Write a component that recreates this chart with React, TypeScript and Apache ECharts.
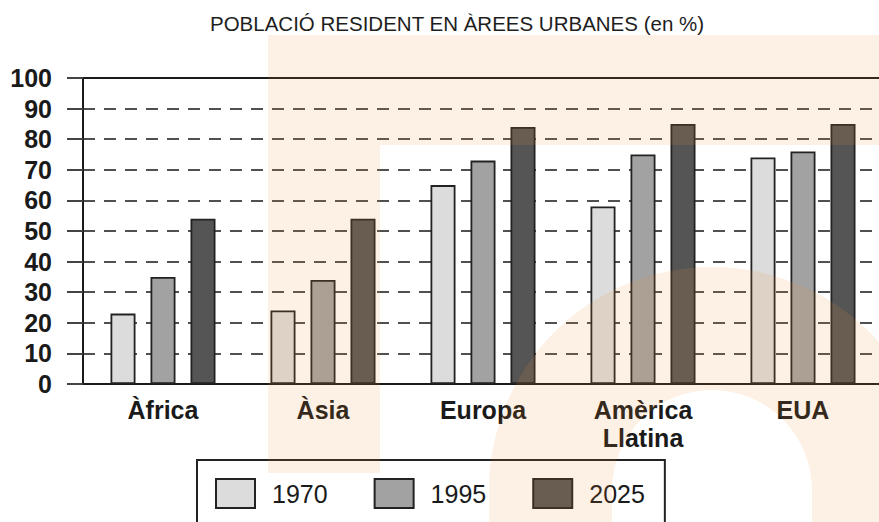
import React, { useEffect, useRef } from "react";
import * as echarts from "echarts";

const categories = ["Àfrica", "Àsia", "Europa", "Amèrica\nLlatina", "EUA"];
const years = ["1970", "1995", "2025"];
const values1970 = [23, 24, 65, 58, 74];
const values1995 = [35, 34, 73, 75, 76];
const values2025 = [54, 54, 84, 85, 85];
const yTicks = [0, 10, 20, 30, 40, 50, 60, 70, 80, 90, 100];
const barColors = ["#dcdcdc", "#a2a2a2", "#555555"];

export default function App() {
  const ref = useRef<HTMLDivElement>(null);
  useEffect(() => {
    document.body.style.margin = "0";
    const chart = echarts.init(ref.current!, null, { renderer: "svg" });
    const seriesValues = [values1970, values1995, values2025];
    const wm = "rgba(236,138,48,0.13)";
    const font = "'Liberation Sans', Arial, Helvetica, sans-serif";
    chart.setOption({
      animation: false,
      backgroundColor: "#ffffff",
      title: {
        text: "POBLACIÓ RESIDENT EN ÀREES URBANES (en %)",
        left: 205,
        top: 8,
        textStyle: { fontFamily: font, fontSize: 20.5, fontWeight: "normal", color: "#1e1e1e" },
      },
      grid: { left: 83, top: 78, right: -4, bottom: 138, outerBoundsMode: "none", containLabel: false },
      legend: {
        data: years,
        left: 197,
        top: 460,
        orient: "horizontal",
        padding: [18, 20, 40, 18],
        borderColor: "#222",
        borderWidth: 2,
        itemWidth: 39,
        itemHeight: 29,
        itemGap: 46,
        icon: "rect",
        itemStyle: { borderColor: "#222", borderWidth: 2 },
        textStyle: { fontFamily: font, fontSize: 25, color: "#1a1a1a", padding: [0, 0, 0, 12] },
      },
      xAxis: [
        {
          type: "category",
          data: categories,
          axisLine: { show: true, lineStyle: { color: "#1a1a1a", width: 2 } },
          axisTick: { show: false },
          axisLabel: {
            fontFamily: font,
            fontSize: 25,
            fontWeight: "bold",
            color: "#1a1a1a",
            margin: 12,
            lineHeight: 28,
            interval: 0,
          },
        },
        {
          type: "category",
          data: categories,
          position: "top",
          axisLine: { show: true, lineStyle: { color: "#1a1a1a", width: 2 } },
          axisTick: { show: false },
          axisLabel: { show: false },
        },
      ],
      yAxis: {
        type: "value",
        min: yTicks[0],
        max: yTicks[yTicks.length - 1],
        interval: 10,
        axisLine: { show: true, lineStyle: { color: "#1a1a1a", width: 2 } },
        axisTick: { show: true, length: 16, lineStyle: { color: "#444", width: 2 } },
        axisLabel: {
          fontFamily: font,
          fontSize: 25,
          fontWeight: "bold",
          color: "#1a1a1a",
          margin: 31,
        },
        splitLine: { show: true, lineStyle: { color: "#505050", width: 2, type: [12, 9] } },
      },
      series: years.map((y, i) => ({
        name: y,
        type: "bar",
        data: seriesValues[i],
        barWidth: 25,
        barGap: "60%",
        itemStyle: { color: barColors[i], borderColor: "#222", borderWidth: 1.8 },
      })),
      graphic: [
        { type: "rect", z: 100, silent: true, shape: { x: 268, y: 35, width: 611, height: 110 }, style: { fill: wm } },
        { type: "rect", z: 100, silent: true, shape: { x: 268, y: 145, width: 112, height: 328 }, style: { fill: wm } },
        {
          type: "sector",
          z: 100,
          silent: true,
          shape: { cx: 712, cy: 490, r: 223, r0: 100, startAngle: Math.PI, endAngle: Math.PI * 2, clockwise: true },
          style: { fill: wm },
        },
        { type: "rect", z: 100, silent: true, shape: { x: 489, y: 490, width: 123, height: 40 }, style: { fill: wm } },
        { type: "rect", z: 100, silent: true, shape: { x: 812, y: 490, width: 123, height: 40 }, style: { fill: wm } },
      ],
    });
    return () => chart.dispose();
  }, []);
  return <div ref={ref} style={{ width: 879, height: 522 }} />;
}
